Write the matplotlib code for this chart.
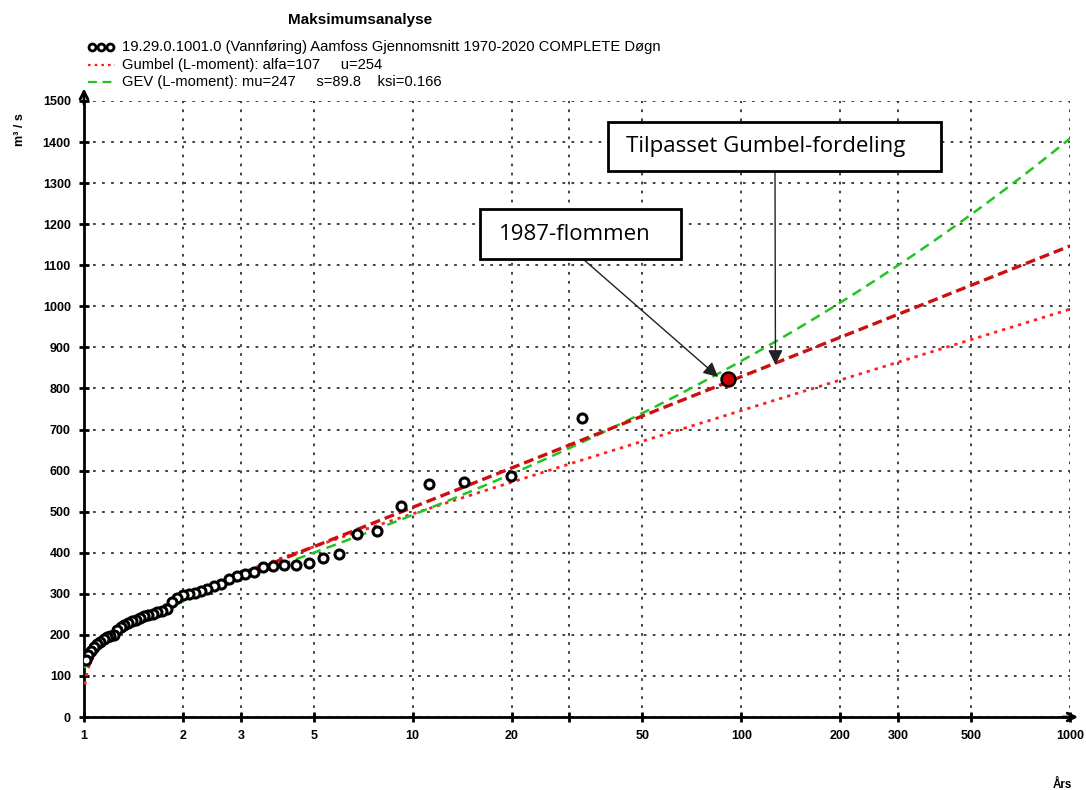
import numpy as np
import matplotlib
matplotlib.use("Agg")
import matplotlib.pyplot as plt
from matplotlib.patches import Rectangle

# aarsmaksimum (m3/s), sortert synkende; forste verdi er 1987-flommen
maks_q = [823, 728, 588, 573, 567, 515, 453, 445, 396, 388, 376, 371, 369, 368,
          365, 353, 349, 343, 337, 325, 318, 312, 307, 302, 300, 296, 290, 280,
          262, 259, 255, 252, 249, 245, 240, 237, 234, 230, 225, 218, 212, 200,
          197, 194, 190, 183, 177, 170, 160, 150, 138]

gumbel_alfa, gumbel_u = 107, 254
gev_mu, gev_s, gev_ksi = 247, 89.8, 0.166

# handtegnet linje "Tilpasset Gumbel-fordeling" (lest av bildet)
tilpasset_T = [1.9, 1000]
tilpasset_Q = [281, 1147]

x_ticks = [1, 2, 3, 5, 10, 20, 30, 50, 100, 200, 300, 500, 1000]
x_labels = ["1", "2", "3", "5", "10", "20", "", "50", "100", "200", "300", "500", "1000"]
y_ticks = list(range(0, 1501, 100))

legend_data = "19.29.0.1001.0 (Vannføring) Aamfoss Gjennomsnitt 1970-2020 COMPLETE Døgn"
legend_gumbel = "Gumbel (L-moment): alfa=107     u=254"
legend_gev = "GEV (L-moment): mu=247     s=89.8    ksi=0.166"

plt.rcParams['font.family'] = ['Liberation Sans', 'DejaVu Sans']

n = len(maks_q)
rang = np.arange(1, n + 1)
T_obs = (n + 0.12) / (rang - 0.44)   # Gringorten

T = np.logspace(np.log10(1.006), 3, 400)
p = 1 - 1 / T
q_gumbel = gumbel_u - gumbel_alfa * np.log(-np.log(p))
q_gev = gev_mu + gev_s / gev_ksi * ((-np.log(p)) ** (-gev_ksi) - 1)

W, H = 1086, 790
fig = plt.figure(figsize=(W / 100, H / 100), dpi=100)
ax = fig.add_axes([84 / W, 1 - 717 / H, 986 / W, 616 / H])

ax.plot(T, q_gumbel, color='#ff2020', ls=(0, (1.2, 1.8)), lw=2, zorder=3)
ax.plot(T, q_gev, color='#22c422', ls=(0, (4, 2.5)), lw=1.8, zorder=3)
ax.plot(tilpasset_T, tilpasset_Q, color='#cc1010', ls=(0, (3, 1.5)), lw=2.4, zorder=3)
ax.plot(T_obs[1:], maks_q[1:], 'o', mfc='white', mec='black', ms=6.5, mew=2.2, zorder=4)
ax.plot(T_obs[0], maks_q[0], 'o', mfc='#cc0000', mec='black', ms=10, mew=1.8, zorder=5)

ax.set_xscale('log')
ax.set_xlim(1, 1000)
ax.set_ylim(0, 1500)
ax.set_xticks(x_ticks)
ax.set_xticklabels(x_labels)
ax.xaxis.set_minor_locator(matplotlib.ticker.NullLocator())
ax.set_yticks(y_ticks)
ax.tick_params(direction='inout', length=7, width=2, labelsize=9, pad=6)
for lab in ax.get_xticklabels() + ax.get_yticklabels():
    lab.set_fontweight('bold')
ax.grid(True, color='#333333', ls=(0, (1.5, 3.5)), lw=1.3)
for side in ['top', 'right']:
    ax.spines[side].set_visible(False)
for side in ['left', 'bottom']:
    ax.spines[side].set_linewidth(2)

ax.annotate('', xy=(0, 1.025), xytext=(0, 0.99), xycoords='axes fraction',
            arrowprops=dict(arrowstyle='->', lw=2, mutation_scale=14))
ax.annotate('', xy=(1.011, 0), xytext=(0.99, 0), xycoords='axes fraction',
            arrowprops=dict(arrowstyle='->', lw=2, mutation_scale=14))

fig.text(360 / W, 1 - 20 / H, "Maksimumsanalyse", ha='center', va='center',
         fontsize=11, fontweight='bold')

# legende
rows = [47, 65, 82]
fig.lines.append(plt.Line2D([92 / W, 101 / W, 110 / W], [1 - rows[0] / H] * 3, ls='none', marker='o',
                            mfc='white', mec='black', ms=5, mew=2, transform=fig.transFigure))
fig.lines.append(plt.Line2D([88 / W, 115 / W], [1 - rows[1] / H] * 2, color='#ff2020',
                            ls=(0, (1.2, 1.8)), lw=1.6, transform=fig.transFigure))
fig.lines.append(plt.Line2D([88 / W, 115 / W], [1 - rows[2] / H] * 2, color='#22c422',
                            ls=(0, (4, 2.5)), lw=1.6, transform=fig.transFigure))
for y, txt in zip(rows, [legend_data, legend_gumbel, legend_gev]):
    fig.text(122 / W, 1 - y / H, txt, ha='left', va='center', fontsize=10.6)

fig.text(20 / W, 1 - 130 / H, "m³ / s", rotation=90, ha='center', va='center',
         fontsize=9, fontweight='bold')
fig.text(1062 / W, 1 - 785 / H, "Års", ha='center', va='center', fontsize=8.5, fontweight='bold')


# tekstbokser med piler (i figurpiksler, y fra toppen)
def tekstboks(tekst, x0, x1, y0, y1, tx, pil_fra, pil_til):
    fig.patches.append(Rectangle((x0 / W, 1 - y1 / H), (x1 - x0) / W, (y1 - y0) / H,
                                 transform=fig.transFigure, fc='white', ec='black', lw=2, zorder=6))
    fig.text(tx / W, 1 - (y0 + y1) / 2 / H, tekst, ha='left', va='center', fontsize=16,
             family='Open Sans', zorder=7)
    ax.annotate('', xy=pil_til, xycoords='data',
                xytext=(pil_fra[0], H - pil_fra[1]), textcoords='figure pixels',
                arrowprops=dict(arrowstyle='-|>', color='#222222', lw=1, mutation_scale=22,
                                shrinkA=0, shrinkB=0), zorder=6)


tekstboks("Tilpasset Gumbel-fordeling", 608, 941, 122, 171, 626, (775, 171), (127, 858))
tekstboks("1987-flommen", 480, 681, 209, 259, 499, (583, 259), (85, 828))

fig.savefig('out.png', dpi=100)
